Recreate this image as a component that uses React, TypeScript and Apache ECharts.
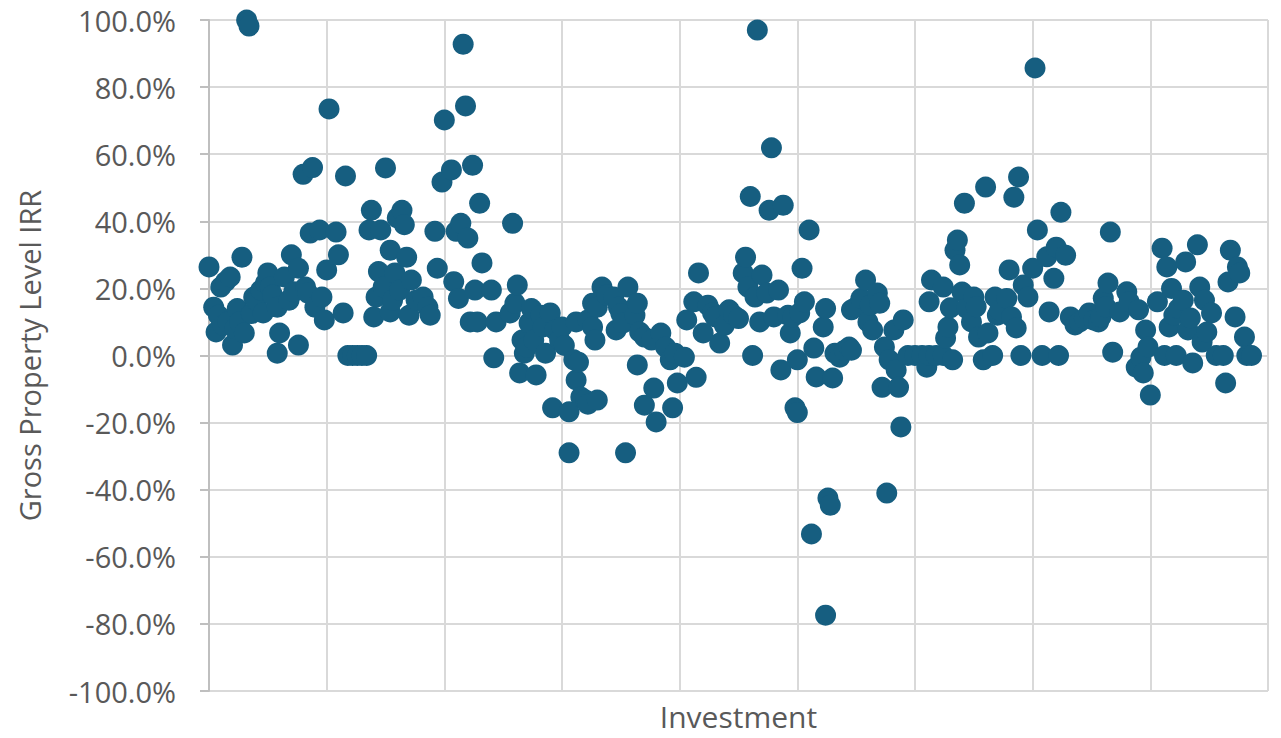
import React, { useEffect, useRef } from "react";
import * as echarts from "echarts";

// Gross property level IRR (%) by investment number, grouped in bands of 50 investments
const band0: [number, number][] = [
  [0, 26.4], [2, 14.4], [3, 7.0], [4, 12.0], [5, 20.4], [6, 9.0], [7, 22.0], [8, 10.0], [9, 23.4], [10, 3.1],
  [11, 8.0], [12, 14.0], [13, 10.0], [14, 29.3], [15, 6.7], [16, 100.0], [17, 98.2], [18, 12.5], [19, 17.4],
  [20, 16.5], [22, 19.5], [23, 12.7], [24, 21.6], [25, 24.6], [26, 20.4], [27, 18.0], [29, 14.4], [29, 0.7],
  [30, 6.7], [32, 23.4], [34, 16.5], [35, 30.0], [36, 19.0], [38, 26.0], [38, 3.1], [40, 54.0], [41, 20.4],
  [42, 18.6], [43, 36.5], [44, 56.0], [45, 14.4], [47, 37.4], [48, 17.4], [49, 10.6],
];
const band1: [number, number][] = [
  [50, 25.5], [51, 73.5], [54, 36.8], [55, 30.0], [57, 12.7], [58, 53.5], [59, 0], [61, 0], [63, 0], [65, 0],
  [67, 0], [68, 37.4], [69, 43.3], [70, 11.5], [71, 17.4], [72, 25.0], [73, 37.4], [74, 20.4], [75, 55.9],
  [77, 13.0], [77, 31.4], [78, 16.5], [79, 24.6], [80, 41.0], [81, 19.5], [82, 43.3], [83, 39.0], [84, 29.3],
  [85, 12.0], [86, 22.5], [88, 16.5], [91, 17.4], [93, 14.4], [94, 12.0], [96, 37.0], [97, 26.0], [99, 51.7],
];
const band2: [number, number][] = [
  [100, 70.2], [103, 55.3], [104, 22.0], [105, 37.0], [106, 17.0], [107, 39.4], [108, 92.8], [109, 74.4],
  [110, 35.0], [111, 10.0], [112, 56.7], [113, 19.5], [114, 10.0], [115, 45.4], [116, 27.6], [120, 19.5],
  [121, -0.7], [122, 10.0], [128, 12.7], [129, 39.4], [130, 15.6], [131, 21.0], [132, -5.2], [133, 4.6],
  [134, 0.7], [135, 2.5], [136, 9.7], [137, 14.0], [138, 4.6], [139, -5.8], [141, 12.0], [142, 8.5],
  [143, 0.7], [145, 12.7], [146, -15.6], [147, 7.6], [149, 4.6],
];
const band3: [number, number][] = [
  [150, 8.5], [151, 3.0], [153, -16.8], [153, -29.0], [155, -1.3], [156, 10.0], [156, -7.3], [157, -2.0],
  [158, -12.4], [160, -13.3], [161, 10.6], [161, -14.5], [163, 15.6], [163, 8.5], [164, 4.6], [165, -13.3],
  [165, 14.4], [167, 20.4], [169, 18.0], [172, 17.4], [173, 7.6], [174, 14.4], [175, 12.5], [176, 9.7],
  [177, -29.0], [178, 20.4], [181, 12.0], [182, 15.6], [182, -2.8], [183, 7.0], [185, 5.5], [185, -14.8],
  [188, 4.6], [189, -9.7], [190, -19.8], [192, 6.7], [194, 2.5], [196, -1.3], [197, -15.6], [198, 0.7],
  [199, -8.2],
];
const band4: [number, number][] = [
  [202, -0.5], [203, 10.6], [206, 16.0], [207, -6.5], [208, 24.6], [210, 6.7], [212, 15.0], [214, 12.7],
  [215, 11.5], [217, 3.7], [219, 9.0], [221, 13.6], [223, 12.0], [225, 11.0], [227, 24.6], [228, 29.3],
  [229, 20.4], [230, 47.4], [231, 0], [232, 17.4], [233, 97.0], [234, 10.0], [235, 24.0], [237, 18.6],
  [238, 43.3], [239, 61.9], [240, 11.5], [242, 19.5], [243, -4.3], [244, 44.8], [246, 12.0], [247, 6.7],
  [248, 11.5], [249, -15.6],
];
const band5: [number, number][] = [
  [250, -17.0], [250, -1.3], [251, 12.7], [252, 26.0], [253, 16.0], [255, 37.4], [256, -53.2], [257, 2.2],
  [258, -6.4], [261, 8.5], [262, 14.0], [262, -77.4], [263, -42.5], [264, -44.6], [265, -6.7], [266, 0.7],
  [268, -0.5], [270, 1.5], [272, 2.5], [273, 1.6], [273, 13.6], [275, 14.4], [277, 17.0], [279, 22.5],
  [280, 10.0], [281, 15.0], [282, 7.6], [284, 18.6], [285, 15.6], [286, -9.5], [287, 2.5], [288, -41.0],
  [289, -1.3], [291, 7.6], [292, -4.3], [293, -9.5], [294, -21.3], [295, 10.6], [297, 0],
];
const band6: [number, number][] = [
  [300, 0], [303, 0], [305, -3.5], [306, 0], [306, 16.0], [307, 22.5], [309, 0], [312, 0], [312, 20.4],
  [313, 5.2], [314, 8.5], [315, 14.2], [316, -1.3], [317, 31.4], [318, 34.4], [319, 27.0], [320, 18.9],
  [321, 45.4], [322, 14.0], [324, 10.0], [325, 17.4], [326, 14.5], [327, 5.5], [329, -1.3], [330, 50.2],
  [331, 6.7], [333, 0], [334, 17.4], [335, 12.0], [336, 13.5], [339, 17.0], [340, 25.5], [341, 11.5],
  [342, 47.2], [343, 8.2], [344, 53.2], [345, 0], [346, 21.0], [348, 17.4],
];
const band7: [number, number][] = [
  [350, 26.0], [351, 85.7], [352, 37.4], [354, 0], [356, 29.4], [357, 13.0], [359, 23.0], [360, 32.3],
  [361, 0], [362, 42.7], [364, 29.9], [366, 11.5], [368, 9.1], [370, 10.0], [372, 11.0], [374, 12.7],
  [376, 10.5], [378, 10.0], [379, 11.5], [380, 17.1], [381, 14.5], [382, 21.6], [383, 36.8], [384, 1.0],
  [387, 13.0], [390, 19.0], [391, 16.0], [394, -3.5], [395, 13.6], [396, -0.5], [397, -5.2], [398, 7.6],
  [399, 2.5],
];
const band8: [number, number][] = [
  [400, -11.8], [403, 16.0], [405, 32.0], [406, 0], [407, 26.4], [408, 8.5], [409, 20.0], [410, 12.0],
  [411, 0], [412, 14.0], [414, 16.5], [415, 27.9], [416, 7.6], [417, 11.2], [418, -2.2], [420, 33.0],
  [421, 20.4], [422, 4.0], [423, 16.5], [424, 7.0], [426, 12.7], [428, 0], [431, 0], [432, -8.2],
  [433, 21.9], [434, 31.4], [436, 11.5], [437, 26.4], [438, 24.6], [440, 5.5], [441, 0], [443, 0],
];

const xTitle = "Investment";
const yTitle = "Gross Property Level IRR";

const FONT = "'Open Sans', 'Noto Sans', sans-serif";
const TEXT = "#595959";
const GRID = "#d9d9d9";
const AXIS = "#bfbfbf";
const DOT = "#165E80";

export default function App() {
  const ref = useRef<HTMLDivElement>(null);

  useEffect(() => {
    if (!ref.current) return;
    const chart = echarts.init(ref.current, undefined, { renderer: "svg" });
    const points = [
      ...band0, ...band1, ...band2, ...band3, ...band4, ...band5, ...band6, ...band7, ...band8,
    ];
    chart.setOption({
      animation: false,
      backgroundColor: "#ffffff",
      textStyle: { fontFamily: FONT },
      grid: { left: 209, right: 13, top: 20, bottom: 47, containLabel: false },
      xAxis: {
        type: "value",
        min: 0,
        max: 450,
        interval: 50,
        name: xTitle,
        nameLocation: "middle",
        nameGap: 10,
        nameTextStyle: { fontSize: 30, color: TEXT, fontFamily: FONT, verticalAlign: "top" },
        axisLine: { show: false },
        axisTick: { show: false },
        axisLabel: { show: false },
        splitLine: { show: true, lineStyle: { color: GRID, width: 2 } },
      },
      yAxis: {
        type: "value",
        min: -100,
        max: 100,
        interval: 20,
        name: yTitle,
        nameLocation: "middle",
        nameGap: 165,
        nameRotate: 90,
        nameTextStyle: { fontSize: 29, color: TEXT, fontFamily: FONT },
        axisLine: { show: true, lineStyle: { color: AXIS, width: 2 } },
        axisTick: { show: true, length: 9, lineStyle: { color: AXIS, width: 2 } },
        axisLabel: {
          fontSize: 29,
          color: TEXT,
          fontFamily: FONT,
          margin: 33,
          formatter: (v: number) => v.toFixed(1) + "%",
        },
        splitLine: { show: true, lineStyle: { color: GRID, width: 2 } },
      },
      series: [
        {
          type: "scatter",
          data: points,
          symbol: "circle",
          symbolSize: 21,
          itemStyle: { color: DOT, opacity: 1 },
          emphasis: { disabled: true },
        },
      ],
    });
    return () => chart.dispose();
  }, []);

  return (
    <div
      ref={ref}
      style={{ position: "fixed", left: 0, top: 0, width: 1281, height: 738, background: "#fff" }}
    />
  );
}
